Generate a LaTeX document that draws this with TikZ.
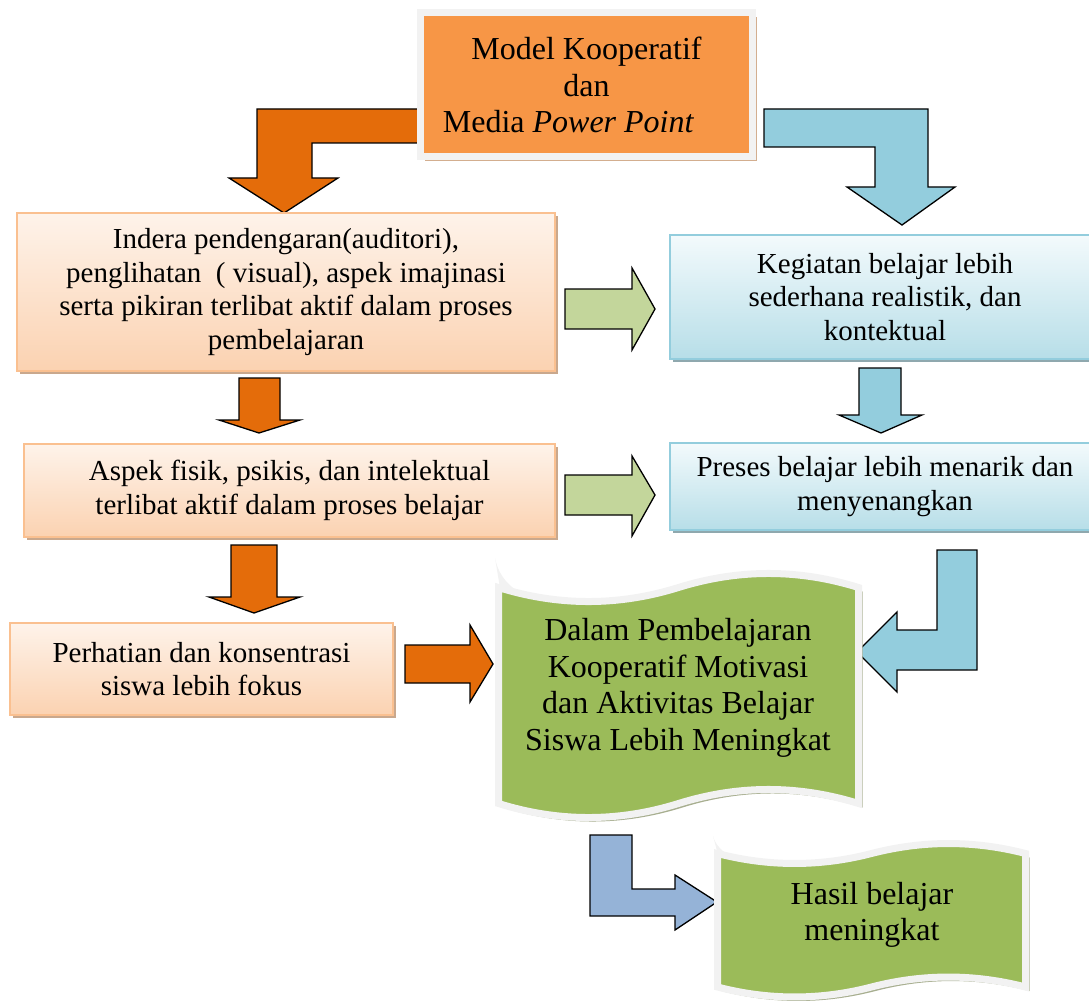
\documentclass[tikz,border=0pt]{standalone}
\usepackage{fontspec}
\setmainfont{Liberation Serif}
\usetikzlibrary{shadows}
\definecolor{darkorange}{HTML}{E46C0A}
\definecolor{midorange}{HTML}{F79646}
\definecolor{tanshadow}{HTML}{D3AE8F}
\definecolor{peachline}{HTML}{FAC090}
\definecolor{peachtop}{HTML}{FEF3EA}
\definecolor{peachbot}{HTML}{FBD2B1}
\definecolor{peachshadow}{HTML}{C9A88D}
\definecolor{blueline}{HTML}{93CDDD}
\definecolor{bluetop}{HTML}{F3FAFC}
\definecolor{bluebot}{HTML}{B7DEE8}
\definecolor{blueshadow}{HTML}{8FA8AE}
\definecolor{lightblue}{HTML}{93CDDD}
\definecolor{steelblue}{HTML}{95B3D7}
\definecolor{palegreen}{HTML}{C3D69B}
\definecolor{olivegreen}{HTML}{9BBB59}
\definecolor{framegray}{HTML}{F2F2F2}
\definecolor{scrollshadow}{HTML}{A7AE8F}
\tikzset{
    lab/.style={
        font=\fontsize{29}{33.5}\selectfont
    }
}

\begin{document}
\begin{tikzpicture}[x=1pt,y=-1pt]

\tikzset{
  peachbox/.style={draw=peachline, line width=1.5pt, top color=peachtop, bottom color=peachbot,
    drop shadow={shadow xshift=3pt, shadow yshift=-3pt, fill=peachshadow, opacity=1},
    inner sep=0pt, align=center, lab},
  bluebox/.style={draw=blueline, line width=1.5pt, top color=bluetop, bottom color=bluebot,
    drop shadow={shadow xshift=3pt, shadow yshift=-3pt, fill=blueshadow, opacity=1},
    inner sep=0pt, align=center, lab},
  topbox/.style={draw=framegray, line width=7pt, fill=midorange,
    drop shadow={shadow xshift=4pt, shadow yshift=-4pt, fill=tanshadow, opacity=1},
    inner sep=0pt, align=center, font=\fontsize{32}{36.5}\selectfont},
  blk/.style={draw=black, line width=1.3pt},
  scroll/.style={fill=olivegreen, draw=framegray, line width=7pt,
    preaction={fill=scrollshadow, transform canvas={xshift=4pt, yshift=-4pt}}},
  scrolltxt/.style={align=center, inner sep=0pt, font=\fontsize{32}{36.5}\selectfont}
}

\useasboundingbox (0,0) rectangle (1089,1008);

% bent arrows from the top box
\draw[blk, fill=darkorange] (420,109) -- (257,109) -- (257,178) -- (229,178) -- (284,213)
  -- (338,178) -- (312,178) -- (312,143) -- (420,143) -- cycle;
\draw[blk, fill=lightblue] (764,109) -- (928,109) -- (928,187) -- (955,187) -- (902,225)
  -- (847,187) -- (875,187) -- (875,147) -- (764,147) -- cycle;

\node[topbox, minimum width=332, minimum height=144] (model) at (586.5,85)
  {Model Kooperatif\\dan\\Media \textit{Power Point}\hspace*{36pt}};

% left column
\node[peachbox, minimum width=538, minimum height=158] (indera) at (286,292)
  {Indera pendengaran(auditori),\\penglihatan\ \ (\ visual), aspek imajinasi\\serta pikiran terlibat aktif dalam proses\\pembelajaran};
\node[peachbox, minimum width=531, minimum height=93] (aspek) at (289.5,490.5)
  {Aspek fisik, psikis, dan intelektual\\terlibat aktif dalam proses belajar};
\node[peachbox, minimum width=383, minimum height=92] (perhatian) at (201.5,669)
  {Perhatian dan konsentrasi\\siswa lebih fokus};

% right column
\node[bluebox, minimum width=430, minimum height=124] (kegiatan) at (885,297)
  {Kegiatan belajar lebih\\sederhana realistik, dan\\kontektual};
\node[bluebox, minimum width=430, minimum height=87] (preses) at (885,486.5)
  {Preses belajar lebih menarik dan\\menyenangkan};

% straight arrows
\draw[blk, fill=darkorange] (239,378) -- (280,378) -- (280,420) -- (300,420) -- (259,433)
  -- (219,420) -- (239,420) -- cycle;
\draw[blk, fill=darkorange] (231,545) -- (277,545) -- (277,597) -- (300,597) -- (254,613)
  -- (209,597) -- (231,597) -- cycle;
\draw[blk, fill=lightblue] (859,368) -- (901,368) -- (901,415) -- (922,415) -- (881,433)
  -- (839,415) -- (859,415) -- cycle;
\draw[blk, fill=palegreen] (565,289) -- (632,289) -- (632,268) -- (655,309) -- (632,350)
  -- (632,329) -- (565,329) -- cycle;
\draw[blk, fill=palegreen] (565,475) -- (632,475) -- (632,456) -- (655,495) -- (632,536)
  -- (632,515) -- (565,515) -- cycle;
\draw[blk, fill=darkorange] (405,645) -- (470,645) -- (470,625) -- (493,664) -- (470,702)
  -- (470,683) -- (405,683) -- cycle;

% bent arrows into the scrolls
\draw[blk, fill=lightblue] (937,550) -- (977,550) -- (977,670) -- (897,670) -- (897,692)
  -- (857,652) -- (897,612) -- (897,630) -- (937,630) -- cycle;
\draw[blk, fill=steelblue] (590,835) -- (632,835) -- (632,889) -- (675,889) -- (675,875)
  -- (717,902) -- (675,930) -- (675,916) -- (590,916) -- cycle;

% scrolls
\fill[framegray] (495,558) -- (502,600) -- (540,602) .. controls (512,592) and (499,578) .. cycle;
\path[scroll] (498.5,587.5) .. controls (558.5,606.2) and (618.5,606.2) .. (678.5,587.5)
  .. controls (738.5,568.8) and (798.5,568.8) .. (858.5,587.5) -- (858.5,803.5)
  .. controls (798.5,784.8) and (738.5,784.8) .. (678.5,803.5)
  .. controls (618.5,822.2) and (558.5,822.2) .. (498.5,803.5) -- cycle;
\node[scrolltxt] (dalam) at (678,688)
  {Dalam Pembelajaran\\Kooperatif Motivasi\\dan Aktivitas Belajar\\Siswa Lebih Meningkat};

\fill[framegray] (713,836) -- (720,862) -- (752,865) .. controls (728,858) and (716,848) .. cycle;
\path[scroll] (717.5,853.5) .. controls (768.8,866.8) and (820.2,866.8) .. (871.5,853.5)
  .. controls (922.8,840.2) and (974.2,840.2) .. (1025.5,853.5) -- (1025.5,987)
  .. controls (974.2,973.7) and (922.8,973.7) .. (871.5,987)
  .. controls (820.2,1000.3) and (768.8,1000.3) .. (717.5,987) -- cycle;
\node[scrolltxt] (hasil) at (872,915) {Hasil belajar\\meningkat};

\end{tikzpicture}
\end{document}
